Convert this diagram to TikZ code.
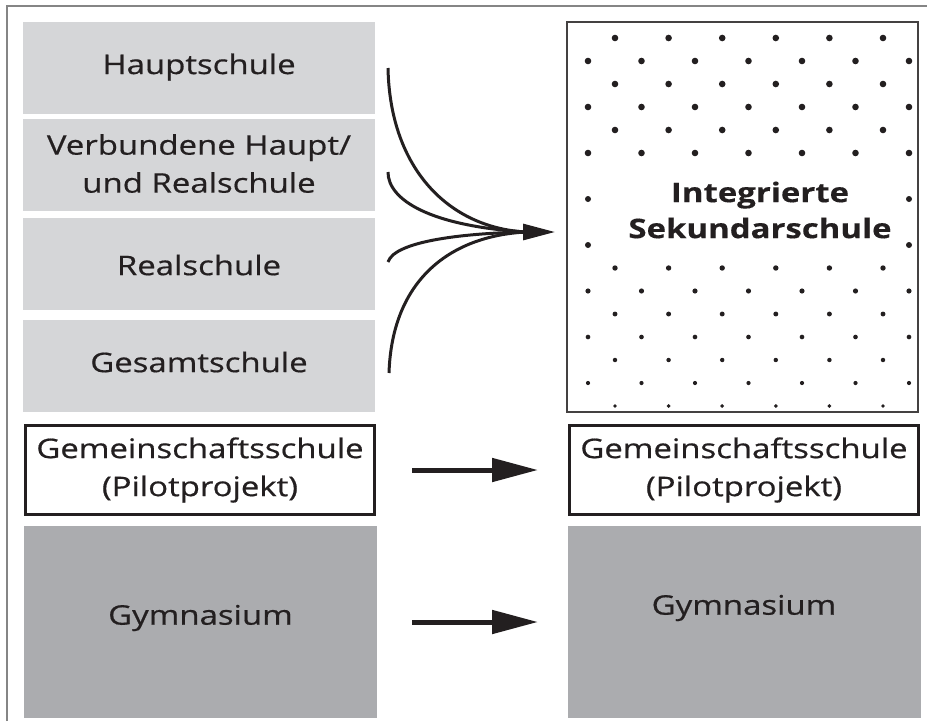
\documentclass[tikz,border=0pt]{standalone}
\usepackage{fontspec}
\setmainfont{Open Sans}[FakeStretch=1.22, UprightFeatures={FakeBold=0.6}, BoldFeatures={FakeBold=0.3}]
\usetikzlibrary{arrows.meta}
\definecolor{lgray}{HTML}{D5D6D8}
\definecolor{dgray}{HTML}{ABACAF}
\definecolor{ink}{HTML}{231F20}
\definecolor{frame}{HTML}{858585}
\begin{document}
\begin{tikzpicture}[x=1pt,y=-1pt,
  lbox/.style={fill=lgray,draw=none,minimum width=352pt,minimum height=92pt,inner sep=0pt},
  wbox/.style={fill=white,draw=ink,line width=2.6pt,minimum width=349pt,minimum height=89pt,inner sep=0pt,align=center,text=ink,font=\fontsize{27}{38}\selectfont},
  gbox/.style={fill=dgray,draw=none,minimum width=353pt,minimum height=192pt,inner sep=0pt},
  lbl/.style={text=ink,align=center,inner sep=0pt,font=\fontsize{27}{38}\selectfont},
  curve/.style={draw=ink,line width=3pt},
  bigarrow/.style={draw=ink,line width=5pt,-{Triangle[length=46pt,width=23pt]}}]
\useasboundingbox (0,0) rectangle (927,721);
\draw[frame,line width=2pt] (7,721) -- (7,6) -- (927,6);
% left column
\node[lbox] (haupt) at (199,67.5) {};
\node[lbl] (hauptT) at (199,67) {Hauptschule};
\node[lbox] (verb) at (199,165) {};
\node[lbl] (verbT) at (199,163.5) {Verbundene Haupt/\\und Realschule};
\node[lbox] (real) at (199,264) {};
\node[lbl] (realT) at (199,265) {Realschule};
\node[lbox] (gesamt) at (199,366) {};
\node[lbl] (gesamtT) at (199,362) {Gesamtschule};
\node[wbox] (geml) at (200,470) {Gemeinschaftsschule\\(Pilotprojekt)};
\node[gbox] (gyml) at (200.5,622) {};
\node[lbl] (gymlT) at (200.5,618) {Gymnasium};
% right column
\node[draw=ink!85,line width=1.2pt,fill=white,minimum width=351pt,minimum height=390pt,inner sep=0pt] (isk) at (742.5,217) {};
\foreach \k in {0,...,16}{
  \pgfmathsetmacro{\yy}{38+23*\k}
  \pgfmathsetmacro{\rr}{\k<6 ? 3.3 : (\k<10 ? 3.0 : 2.7-0.12*(\k-10))}
  \pgfmathtruncatemacro{\pty}{mod(\k,2)}
  \ifnum\k=6\else\ifnum\k=8\else
  \ifnum\pty=0
    \foreach \j in {0,...,5}{\fill[ink] ({615+53.6*\j},\yy) circle (\rr pt);}
  \else
    \ifnum\k=7
      \foreach \j in {0,6}{\fill[ink] ({588+53.5*\j},\yy) circle (\rr pt);}
    \else\ifnum\k=9
      \foreach \j in {0,6}{\fill[ink] ({588+53.5*\j},\yy) circle (\rr pt);}
    \else
      \foreach \j in {0,...,6}{\fill[ink] ({588+53.5*\j},\yy) circle (\rr pt);}
    \fi\fi
  \fi
  \fi\fi
}
\node[lbl,font=\fontsize{27}{36}\selectfont\bfseries] (iskT) at (760,210) {Integrierte\\Sekundarschule};
\node[wbox] (gemr) at (744,470) {Gemeinschaftsschule\\(Pilotprojekt)};
\node[gbox] (gymr) at (744,622) {};
\node[lbl] (gymrT) at (744,608) {Gymnasium};
% curved arrows
\coordinate (s1) at (388,68);
\coordinate (s2) at (388,172);
\coordinate (s3) at (388,262);
\coordinate (s4) at (389,373);
\coordinate (join) at (526,232);
\coordinate (tip) at (555,232);
\draw[curve] (s1) .. controls (390,170) and (450,228) .. (join);
\draw[curve] (s2) .. controls (388,200) and (430,226) .. (join);
\draw[curve] (s3) .. controls (395,240) and (470,233) .. (join);
\draw[curve] (s4) .. controls (392,280) and (450,236) .. (join);
\draw[draw=ink,line width=3pt,-{Triangle[length=32pt,width=16pt]}] (520,232) -- (tip);
% straight arrows
\coordinate (a1s) at (412,470);
\coordinate (a1e) at (538,470);
\coordinate (a2s) at (412,622);
\coordinate (a2e) at (538,622);
\draw[bigarrow] (a1s) -- (a1e);
\draw[bigarrow] (a2s) -- (a2e);
\end{tikzpicture}
\end{document}
